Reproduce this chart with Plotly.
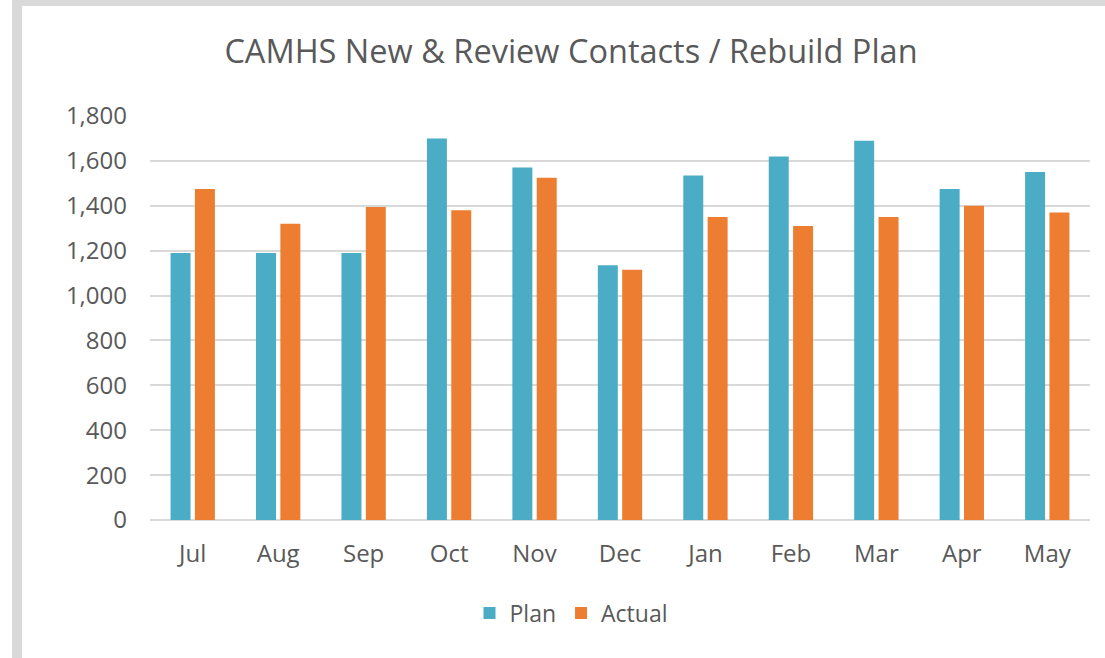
import plotly.graph_objects as go

# Monthly contacts: plan vs actual
months = ["Jul", "Aug", "Sep", "Oct", "Nov", "Dec", "Jan", "Feb", "Mar", "Apr", "May"]
plan = [1190, 1190, 1190, 1700, 1570, 1135, 1535, 1620, 1690, 1475, 1550]
actual = [1475, 1320, 1395, 1380, 1525, 1115, 1350, 1310, 1350, 1400, 1370]
y_ticks = [0, 200, 400, 600, 800, 1000, 1200, 1400, 1600, 1800]

PLAN_COLOR = "#4BACC6"
ACTUAL_COLOR = "#ED7D31"
TEXT_COLOR = "#595959"
GRID_COLOR = "#D9D9D9"
FONT = "Open Sans"

W, H = 1105, 658
L, R, T, B = 150, 15, 116, 138
plot_w = W - L - R
plot_h = H - T - B


def px_x(px):
    return (px - L) / plot_w


def px_y(py):
    return (H - B - py) / plot_h


fig = go.Figure()
fig.add_trace(go.Bar(name="Plan", x=months, y=plan, marker_color=PLAN_COLOR,
                     marker_line_width=0))
fig.add_trace(go.Bar(name="Actual", x=months, y=actual, marker_color=ACTUAL_COLOR,
                     marker_line_width=0))

# light grey frame strips along the left and top edges
shapes = [
    dict(type="rect", xref="paper", yref="paper",
         x0=px_x(12), x1=px_x(22), y0=px_y(H + 5), y1=px_y(-5),
         fillcolor="#D9D9D9", line_width=0, layer="below"),
    dict(type="rect", xref="paper", yref="paper",
         x0=px_x(12), x1=px_x(W + 5), y0=px_y(6), y1=px_y(-5),
         fillcolor="#D9D9D9", line_width=0, layer="below"),
]

fig.update_layout(
    width=W, height=H,
    margin=dict(l=L, r=R, t=T, b=B, pad=0),
    paper_bgcolor="white", plot_bgcolor="white",
    barmode="group", bargap=0.43, bargroupgap=0.18,
    font=dict(family=FONT, color=TEXT_COLOR, size=24),
    title=dict(text="CAMHS New & Review Contacts / Rebuild Plan",
               font=dict(family=FONT, size=32.5, color=TEXT_COLOR),
               xref="paper", x=px_x(571), xanchor="center",
               yref="container", y=1 - 52 / H, yanchor="middle"),
    legend=dict(orientation="h", x=px_x(571), xanchor="center",
                y=px_y(613), yanchor="middle",
                font=dict(family=FONT, size=23, color=TEXT_COLOR),
                itemwidth=30, traceorder="normal"),
    shapes=shapes,
    hovermode=False,
    showlegend=True,
)

fig.update_xaxes(showgrid=False, showline=False, ticks="",
                 tickfont=dict(family=FONT, size=24, color=TEXT_COLOR),
                 ticklabelstandoff=17)
fig.update_yaxes(range=[0, 1800], tickvals=y_ticks, tickformat=",d",
                 showgrid=True, gridcolor=GRID_COLOR, gridwidth=1.5,
                 zeroline=True, zerolinecolor=GRID_COLOR, zerolinewidth=1.5,
                 showline=False, ticks="",
                 tickfont=dict(family=FONT, size=24, color=TEXT_COLOR),
                 ticklabelstandoff=22)

fig.write_html("out.html")
